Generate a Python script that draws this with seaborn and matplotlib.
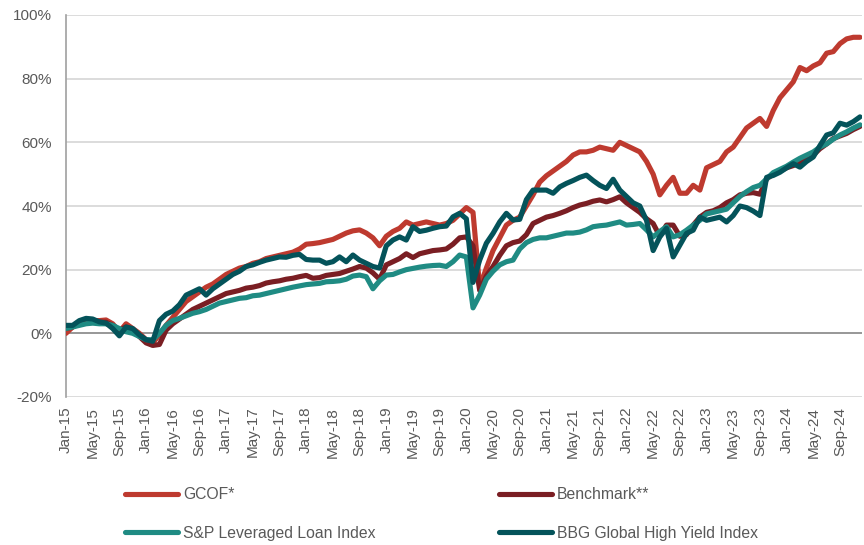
import numpy as np
import pandas as pd
import matplotlib
matplotlib.use("Agg")
import matplotlib.pyplot as plt
from matplotlib.lines import Line2D
import seaborn as sns

# ---- data (cumulative return, %) monthly Jan-15 .. Dec-24 ----
years = list(range(15, 25))
month_names = ["Jan", "Feb", "Mar", "Apr", "May", "Jun",
               "Jul", "Aug", "Sep", "Oct", "Nov", "Dec"]
months = [f"{m}-{y}" for y in years for m in month_names]

gcof = [0.0, 2.0, 3.0, 3.5, 4.0, 4.0, 4.2, 3.0, 0.5, 3.0, 1.5, 0.0,
        -2.0, -3.0, -0.5, 2.5, 5.0, 7.5, 10.0, 11.5, 13.0, 14.5, 15.5, 17.0,
        18.5, 19.5, 20.5, 21.0, 22.0, 22.5, 23.5, 24.0, 24.5, 25.0, 25.5, 26.5,
        28.0, 28.2, 28.5, 29.0, 29.5, 30.5, 31.5, 32.2, 32.5, 31.5, 30.0, 27.5,
        30.5, 32.0, 33.0, 35.0, 34.0, 34.5, 35.0, 34.5, 34.0, 34.5, 35.5, 37.5,
        39.5, 38.0, 14.5, 20.5, 26.0, 30.0, 34.0, 35.5, 36.5, 40.0, 43.5, 47.5,
        49.5, 51.0, 52.5, 54.0, 56.0, 57.0, 57.0, 57.5, 58.5, 58.0, 57.5, 60.0,
        59.0, 58.0, 57.0, 54.0, 50.0, 43.5, 46.5, 49.0, 44.0, 44.0, 46.5, 45.0,
        52.0, 53.0, 54.0, 57.0, 58.5, 61.5, 64.5, 66.0, 67.5, 65.0, 70.0, 74.0,
        76.5, 79.0, 83.5, 82.5, 84.0, 85.0, 88.0, 88.5, 91.0, 92.5, 93.0, 93.0]

benchmark = [1.5, 2.0, 3.0, 3.5, 3.5, 3.5, 3.5, 2.5, 1.0, 2.0, 1.0, -1.0,
             -3.0, -3.8, -3.5, 1.0, 3.0, 4.5, 6.0, 7.5, 8.5, 9.5, 10.5, 11.5,
             12.5, 13.0, 13.5, 14.2, 14.5, 15.0, 15.8, 16.2, 16.5, 17.0, 17.3, 17.8,
             18.2, 17.3, 17.5, 18.2, 18.5, 18.8, 19.5, 20.2, 21.0, 20.5, 19.0, 17.0,
             21.5, 22.5, 23.5, 25.0, 23.8, 25.0, 25.5, 26.0, 26.2, 26.5, 28.0, 30.0,
             30.3, 27.5, 13.5, 18.0, 21.0, 24.5, 27.5, 28.5, 29.0, 31.0, 34.5, 35.5,
             36.5, 37.0, 37.7, 38.5, 39.5, 40.3, 40.8, 41.5, 41.9, 41.3, 42.0, 42.9,
             41.0, 39.5, 38.0, 36.0, 34.5, 30.5, 34.0, 34.0, 30.5, 31.0, 34.0, 36.5,
             38.0, 38.5, 39.5, 41.0, 42.0, 43.5, 44.0, 44.2, 43.7, 48.5, 50.0, 51.0,
             52.0, 52.7, 53.8, 54.8, 56.0, 58.0, 59.5, 61.2, 62.0, 62.8, 64.0, 65.0]

sp_loan = [1.5, 2.0, 2.5, 3.0, 3.2, 3.0, 3.0, 2.5, 1.5, 0.5, 0.0, -1.0,
           -2.0, -2.0, 0.0, 2.5, 4.0, 4.7, 5.5, 6.3, 6.8, 7.5, 8.5, 9.5,
           10.0, 10.5, 11.0, 11.2, 11.8, 12.0, 12.5, 13.0, 13.5, 14.0, 14.5, 14.9,
           15.3, 15.5, 15.7, 16.2, 16.3, 16.5, 17.0, 18.0, 18.3, 17.8, 14.0, 16.5,
           18.3, 18.5, 19.3, 20.0, 20.4, 20.8, 21.1, 21.3, 21.4, 21.0, 22.5, 24.6,
           24.0, 8.0, 12.0, 17.0, 19.5, 21.5, 22.5, 23.0, 26.5, 28.5, 29.5, 30.0,
           30.0, 30.5, 31.0, 31.5, 31.5, 31.8, 32.5, 33.5, 33.8, 34.0, 34.5, 35.0,
           34.0, 34.2, 34.5, 32.5, 30.3, 32.0, 33.5, 30.3, 31.0, 32.4, 34.0, 35.5,
           37.5, 38.0, 38.5, 39.0, 41.0, 43.0, 44.5, 45.8, 46.5, 48.5, 50.5, 51.5,
           52.5, 53.8, 55.0, 56.0, 57.0, 58.5, 59.5, 61.0, 62.3, 63.3, 64.5, 65.5]

bbg_hy = [2.5, 2.5, 4.0, 4.7, 4.5, 3.6, 3.2, 1.5, -0.8, 2.0, 1.5, -0.5,
          -2.0, -2.5, 4.0, 6.0, 7.0, 9.0, 12.0, 13.0, 14.0, 12.0, 14.0, 15.5,
          17.0, 18.5, 19.5, 21.0, 21.5, 22.3, 23.0, 23.5, 24.0, 23.9, 24.5, 24.8,
          23.2, 23.0, 23.0, 22.0, 22.5, 24.0, 22.5, 24.6, 23.0, 22.0, 21.0, 20.5,
          27.5, 29.3, 30.3, 29.3, 33.5, 32.0, 32.4, 33.0, 33.5, 33.7, 36.6, 37.7,
          36.0, 16.0, 23.0, 28.3, 31.4, 35.0, 37.7, 35.6, 35.8, 42.0, 45.0, 45.0,
          45.0, 44.0, 46.0, 47.1, 48.0, 49.0, 49.7, 48.0, 46.5, 45.5, 48.4, 45.0,
          43.0, 41.0, 40.0, 35.5, 26.0, 30.3, 33.0, 24.0, 27.7, 31.4, 32.4, 36.5,
          35.5, 36.0, 36.5, 35.0, 37.0, 40.0, 39.5, 38.4, 37.0, 49.0, 49.6, 50.6,
          52.0, 53.3, 52.2, 54.0, 55.4, 59.0, 62.3, 63.0, 66.0, 65.4, 66.5, 68.0]

series_names = ["GCOF*", "Benchmark**", "S&P Leveraged Loan Index",
                "BBG Global High Yield Index"]
series_values = [gcof, benchmark, sp_loan, bbg_hy]
colors = ["#BE3A2F", "#7A1E23", "#1F8B83", "#04535A"]

y_ticks = [-20, 0, 20, 40, 60, 80, 100]
y_tick_labels = [f"{v}%" for v in y_ticks]

# ---- build long table ----
frames = []
for name, vals in zip(series_names, series_values):
    frames.append(pd.DataFrame({"idx": np.arange(len(vals)),
                                "value": vals, "series": name}))
df = pd.concat(frames, ignore_index=True)

# ---- plot ----
sns.set_style("white")
plt.rcParams["font.family"] = ["Liberation Sans", "DejaVu Sans"]

W, H = 864, 545
fig = plt.figure(figsize=(W / 100, H / 100), dpi=100)
ax = fig.add_axes([66 / W, 1 - 397 / H, 796 / W, 382 / H])

LW = 3.7
sns.lineplot(data=df, x="idx", y="value", hue="series",
             hue_order=series_names, palette=colors, linewidth=LW,
             estimator=None, legend=False, ax=ax, zorder=3)
for ln in ax.lines:
    ln.set_solid_capstyle("round")
    ln.set_solid_joinstyle("round")

ax.set_xlim(0, 119.3)
ax.set_ylim(-20, 100)
ax.set_yticks(y_ticks)
ax.set_yticklabels(y_tick_labels)
xt = list(range(0, len(months), 4))
ax.set_xticks(xt)
ax.set_xticklabels([months[i] for i in xt], rotation=90)
ax.set_xlabel("")
ax.set_ylabel("")

ax.grid(axis="y", color="#D9D9D9", linewidth=1.3, zorder=0)
ax.grid(axis="x", visible=False)
ax.axhline(0, color="#8C8C8C", linewidth=1.2, zorder=2)
for s in ["top", "right", "bottom"]:
    ax.spines[s].set_visible(False)
ax.spines["left"].set_color("#A0A0A0")
ax.spines["left"].set_linewidth(1.2)
ax.set_axisbelow(True)

ax.tick_params(axis="y", length=0, pad=10, labelsize=11, labelcolor="#595959")
ax.tick_params(axis="x", length=0, pad=7, labelsize=11, labelcolor="#595959")

# ---- legend: two columns ----
handles = [Line2D([0], [0], color=c, lw=LW, solid_capstyle="round") for c in colors]
leg_kw = dict(frameon=False, loc="upper left", fontsize=11.3, borderpad=0,
              borderaxespad=0, handlelength=3.4, handletextpad=0.3,
              labelspacing=1.5, labelcolor="#595959")
leg1 = fig.legend([handles[0], handles[2]], [series_names[0], series_names[2]],
                  bbox_to_anchor=(125 / W, 1 - 487 / H), **leg_kw)
leg2 = fig.legend([handles[1], handles[3]], [series_names[1], series_names[3]],
                  bbox_to_anchor=(499 / W, 1 - 487 / H), **leg_kw)

fig.savefig("out.png", dpi=100)
